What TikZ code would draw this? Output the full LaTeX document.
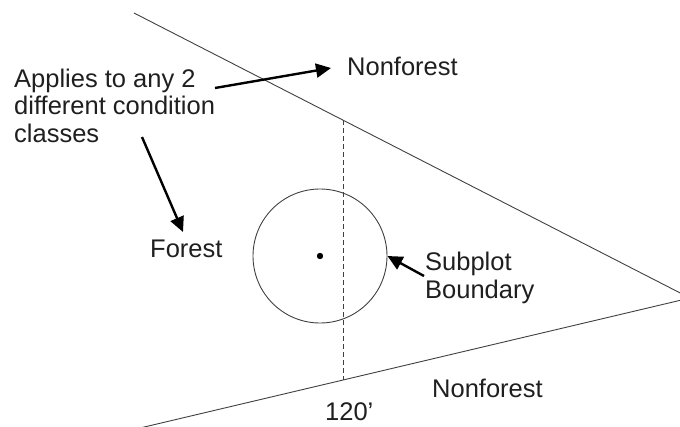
\documentclass[tikz,border=0pt]{standalone}
\usepackage{fontspec}
\setmainfont{Liberation Sans}
\usetikzlibrary{arrows.meta}

\tikzset{
	edge/.style = {draw=black!75, line width=0.9pt},
	pointer/.style = {-{Triangle[length=15pt,width=14pt]}, line width=2.4pt, black},
	lbl/.style = {anchor=base west, inner sep=0pt, text=black!88,
		font=\fontsize{25.5}{27.5}\selectfont}
}

\begin{document}
\begin{tikzpicture}[x=1pt,y=-1pt]
	\useasboundingbox (0,0) rectangle (680,426);
	
	% boundary of the two condition classes
	\coordinate (topstart) at (134,13);
	\coordinate (botstart) at (140,428);
	\coordinate (apex) at (690,298);
	\coordinate (cuttop) at (343,120);
	\coordinate (cutbot) at (343,380);
	
	\draw[edge] (topstart) -- (apex) -- (botstart);
	\draw[edge, dashed, dash pattern=on 5pt off 3pt] (cuttop) -- (cutbot);
	
	% subplot
	\node[circle, draw=black!75, line width=0.9pt, minimum size=134pt, inner sep=0pt] (subplot) at (320,256) {};
	\fill (subplot.center) circle (3.2pt);
	
	% labels
	\node[lbl, align=left] (applies) at (14,142) {Applies to any 2\\different condition\\classes};
	\node[lbl] (nonforestA) at (347,75) {Nonforest};
	\node[lbl] (forest) at (150,257) {Forest};
	\node[lbl, align=left] (boundary) at (425,298) {Subplot\\Boundary};
	\node[lbl] (nonforestB) at (432,397) {Nonforest};
	\node[lbl] (dist) at (325,420) {120’};
	
	% arrows
	\coordinate (a1) at (215,88);
	\coordinate (a2) at (142,137);
	\coordinate (a3) at (424,276);
	\draw[pointer] (a1) -- ([xshift=-16pt,yshift=7pt]nonforestA.base west);
	\draw[pointer] (a2) -- ([xshift=33pt,yshift=25pt]forest.base west);
	\draw[pointer] (a3) -- (subplot.east);
	
\end{tikzpicture}
\end{document}
